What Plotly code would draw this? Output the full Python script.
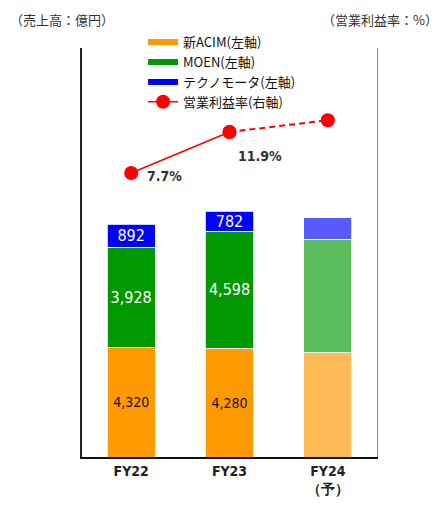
import plotly.graph_objects as go

categories = ["FY22", "FY23", "FY24"]
tick_labels = ["FY22", "FY23", "FY24<br>（予）"]
acim = [4320, 4280, 4100]
moen = [3928, 4598, 4450]
techno = [892, 782, 850]
margin_rate = [7.7, 11.9, 13.1]

acim_labels = ["4,320", "4,280", ""]
moen_labels = ["3,928", "4,598", ""]
techno_labels = ["892", "782", ""]

acim_colors = ["#FF9900", "#FF9900", "#FFBA57"]
moen_colors = ["#009900", "#009900", "#59BB59"]
techno_colors = ["#0000FF", "#0000FF", "#5959FF"]

JP = "Noto Sans CJK JP"
NARROW = "DejaVu Sans Condensed"

fig = go.Figure()

def add_bar(vals, colors, labels, tcolor, tsize):
    fig.add_trace(go.Bar(
        x=categories, y=vals, width=0.49,
        marker=dict(color=colors, line=dict(color="rgba(255,255,255,0.8)", width=1)),
        text=labels, textposition="inside", insidetextanchor="middle",
        textfont=dict(color=tcolor, size=tsize, family=NARROW),
        textangle=0, constraintext="none",
        showlegend=False, hoverinfo="skip", yaxis="y"))

add_bar(acim, acim_colors, acim_labels, "#111111", 14)
add_bar(moen, moen_colors, moen_labels, "#FFFFFF", 16)
add_bar(techno, techno_colors, techno_labels, "#FFFFFF", 16)

# legend entries
for name, col in [("新ACIM(左軸)", "#FF9900"), ("MOEN(左軸)", "#009900"), ("テクノモータ(左軸)", "#0000FF")]:
    fig.add_trace(go.Scatter(x=[None], y=[None], mode="lines", name=name,
                             line=dict(color=col, width=6), yaxis="y"))

fig.add_trace(go.Scatter(x=categories[:2], y=margin_rate[:2], mode="lines+markers",
                         name="営業利益率(右軸)", yaxis="y2",
                         line=dict(color="#FF0000", width=1.5),
                         marker=dict(color="#FF0000", size=14), hoverinfo="skip"))
fig.add_trace(go.Scatter(x=categories[1:], y=margin_rate[1:], mode="lines+markers",
                         showlegend=False, yaxis="y2",
                         line=dict(color="#FF0000", width=2, dash="6px,4px"),
                         marker=dict(color="#FF0000", size=14), hoverinfo="skip"))

pct_text = [f"{v}%" for v in margin_rate]
fig.add_annotation(x=categories[0], y=margin_rate[0], yref="y2", text=pct_text[0],
                   showarrow=False, xanchor="left", xshift=14, yshift=-3,
                   font=dict(family=NARROW, size=14, color="#333333", weight="bold"))
fig.add_annotation(x=categories[1], y=margin_rate[1], yref="y2", text=pct_text[1],
                   showarrow=False, xanchor="left", xshift=6, yshift=-24,
                   font=dict(family=NARROW, size=14, color="#333333", weight="bold"))

fig.add_annotation(x=-74 / 295, xref="paper", xanchor="left", y=449 / 409, yref="paper",
                   yanchor="top", text="（売上高：億円）", showarrow=False,
                   font=dict(family=JP, size=13, color="#333333"))
fig.add_annotation(x=1.0 + 63 / 295, xref="paper", xanchor="right", y=449 / 409, yref="paper",
                   yanchor="top", text="（営業利益率：%）", showarrow=False,
                   font=dict(family=JP, size=13, color="#333333"))

# page body has an 8px margin, so the figure is sized/offset to place the plot area
# at the same window pixels as the reference
fig.update_layout(
    barmode="stack",
    width=439, height=498,
    margin=dict(l=74, r=70, t=40, b=49, autoexpand=False),
    paper_bgcolor="white", plot_bgcolor="white",
    font=dict(family=JP, size=13, color="#222222"),
    xaxis=dict(type="category", range=[-0.5, 2.5], tickvals=categories, ticktext=tick_labels,
               showline=True, linecolor="#111111", linewidth=1.5, ticks="",
               showgrid=False, tickfont=dict(family=NARROW, size=14, color="#222222", weight="bold")),
    yaxis=dict(range=[0, 16074], showgrid=False, zeroline=False, showticklabels=False,
               showline=True, linecolor="#222222", linewidth=1.5, ticks=""),
    yaxis2=dict(range=[-21.4, 20.5], overlaying="y", side="right", showgrid=False,
                zeroline=False, showticklabels=False, showline=True,
                linecolor="#888888", linewidth=1, ticks=""),
    legend=dict(x=0.207, y=1.051, xanchor="left", yanchor="top", bgcolor="rgba(0,0,0,0)",
                font=dict(family=JP, size=13, color="#111111"), traceorder="normal",
                tracegroupgap=0, itemwidth=30),
    showlegend=True,
)

fig.write_html("out.html")
